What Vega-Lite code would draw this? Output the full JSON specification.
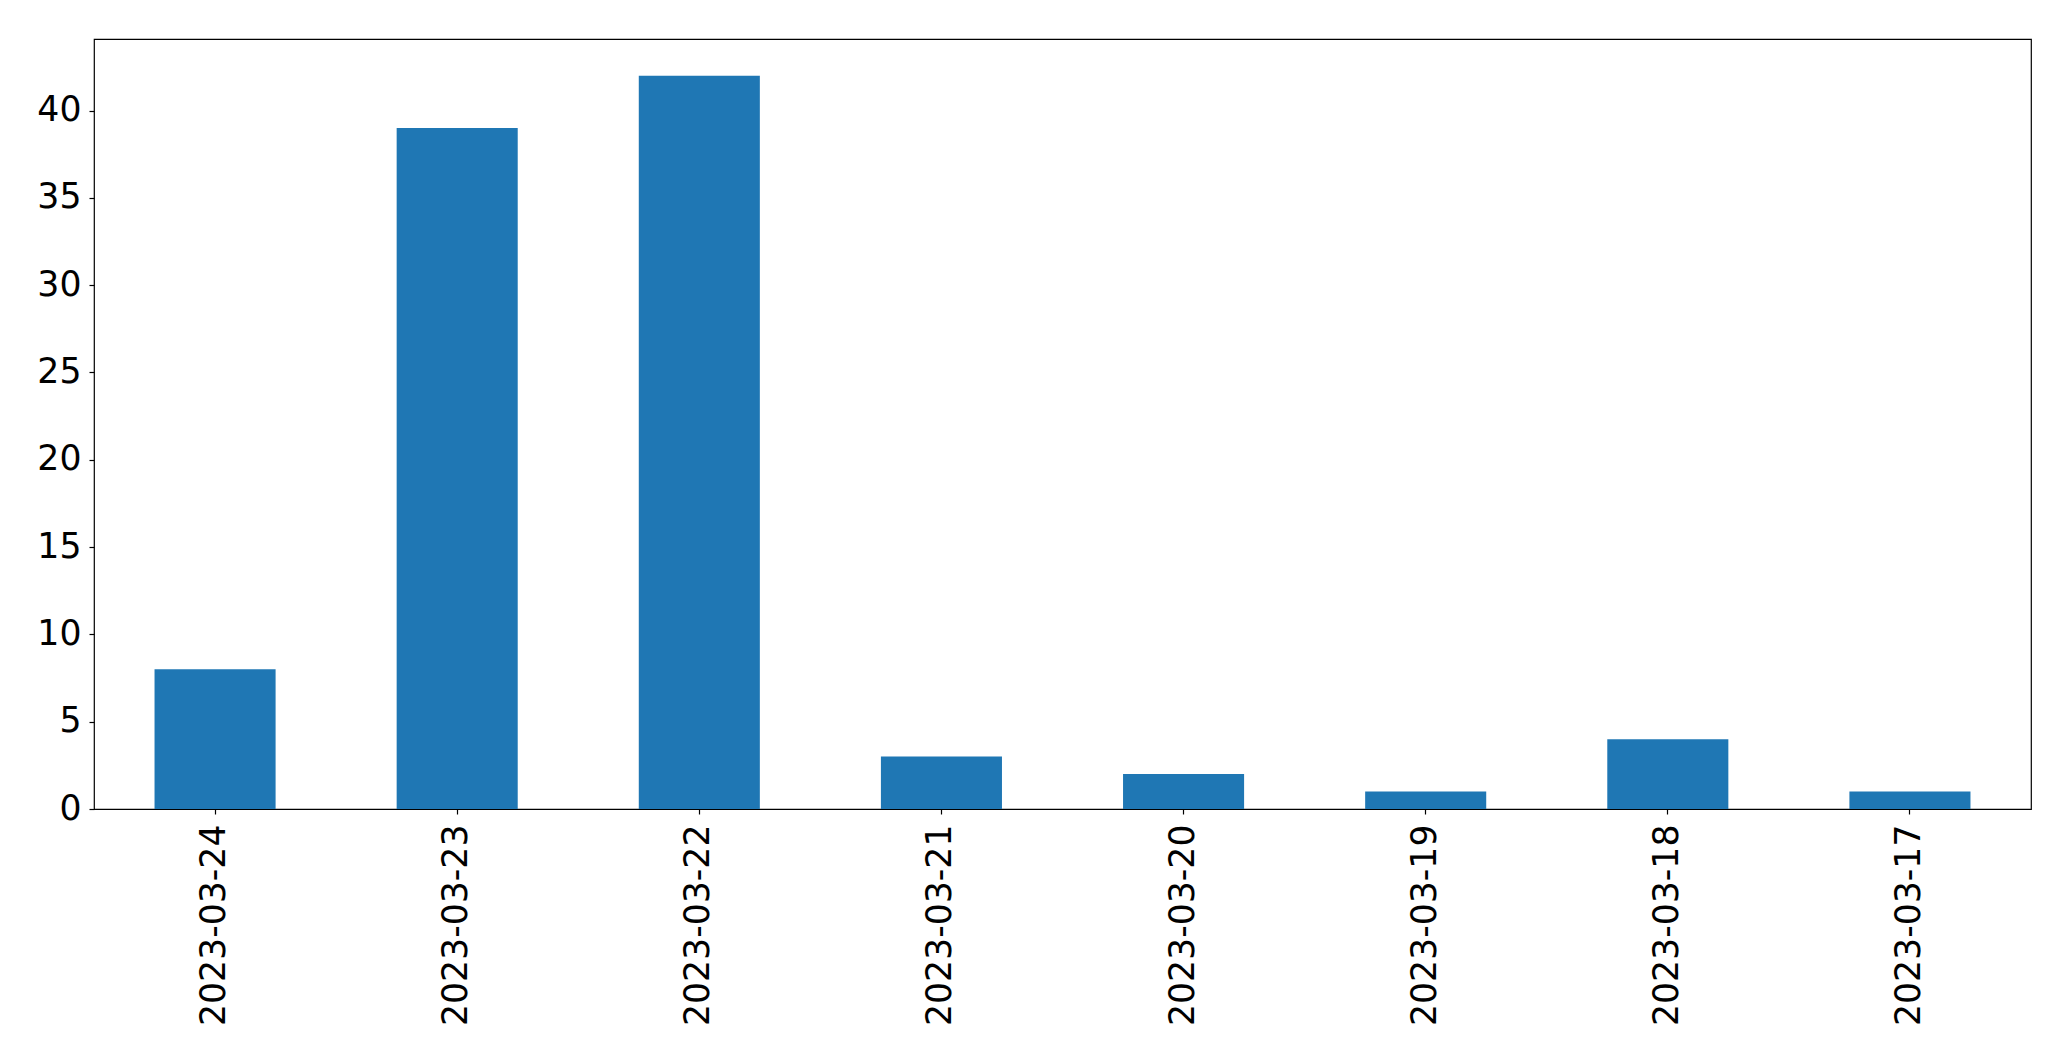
{
  "$schema": "https://vega.github.io/schema/vega-lite/v6.json",
  "width": 1937,
  "height": 770,
  "autosize": "none",
  "padding": {"left": 94, "top": 39, "right": 40, "bottom": 252},
  "background": "white",
  "config": {
    "view": {"stroke": "black", "strokeWidth": 1.2},
    "font": "DejaVu Sans",
    "axis": {
      "grid": false,
      "domain": false,
      "tickColor": "black",
      "tickSize": 5,
      "tickWidth": 1.2,
      "labelFont": "DejaVu Sans",
      "labelFontSize": 34.7,
      "labelColor": "black",
      "labelLimit": 0,
      "title": null
    }
  },
  "data": {
    "values": [
      {"date": "2023-03-24", "count": 8},
      {"date": "2023-03-23", "count": 39},
      {"date": "2023-03-22", "count": 42},
      {"date": "2023-03-21", "count": 3},
      {"date": "2023-03-20", "count": 2},
      {"date": "2023-03-19", "count": 1},
      {"date": "2023-03-18", "count": 4},
      {"date": "2023-03-17", "count": 1}
    ]
  },
  "mark": {"type": "bar", "color": "#1f77b4"},
  "encoding": {
    "x": {
      "field": "date",
      "type": "nominal",
      "sort": null,
      "scale": {"paddingInner": 0.5, "paddingOuter": 0.25},
      "axis": {"labelAngle": -90, "labelAlign": "right", "labelBaseline": "middle", "labelPadding": 10, "labelLimit": 400}
    },
    "y": {
      "field": "count",
      "type": "quantitative",
      "scale": {"domain": [0, 44.1], "nice": false, "zero": true},
      "axis": {"values": [0, 5, 10, 15, 20, 25, 30, 35, 40], "labelPadding": 8}
    }
  }
}
